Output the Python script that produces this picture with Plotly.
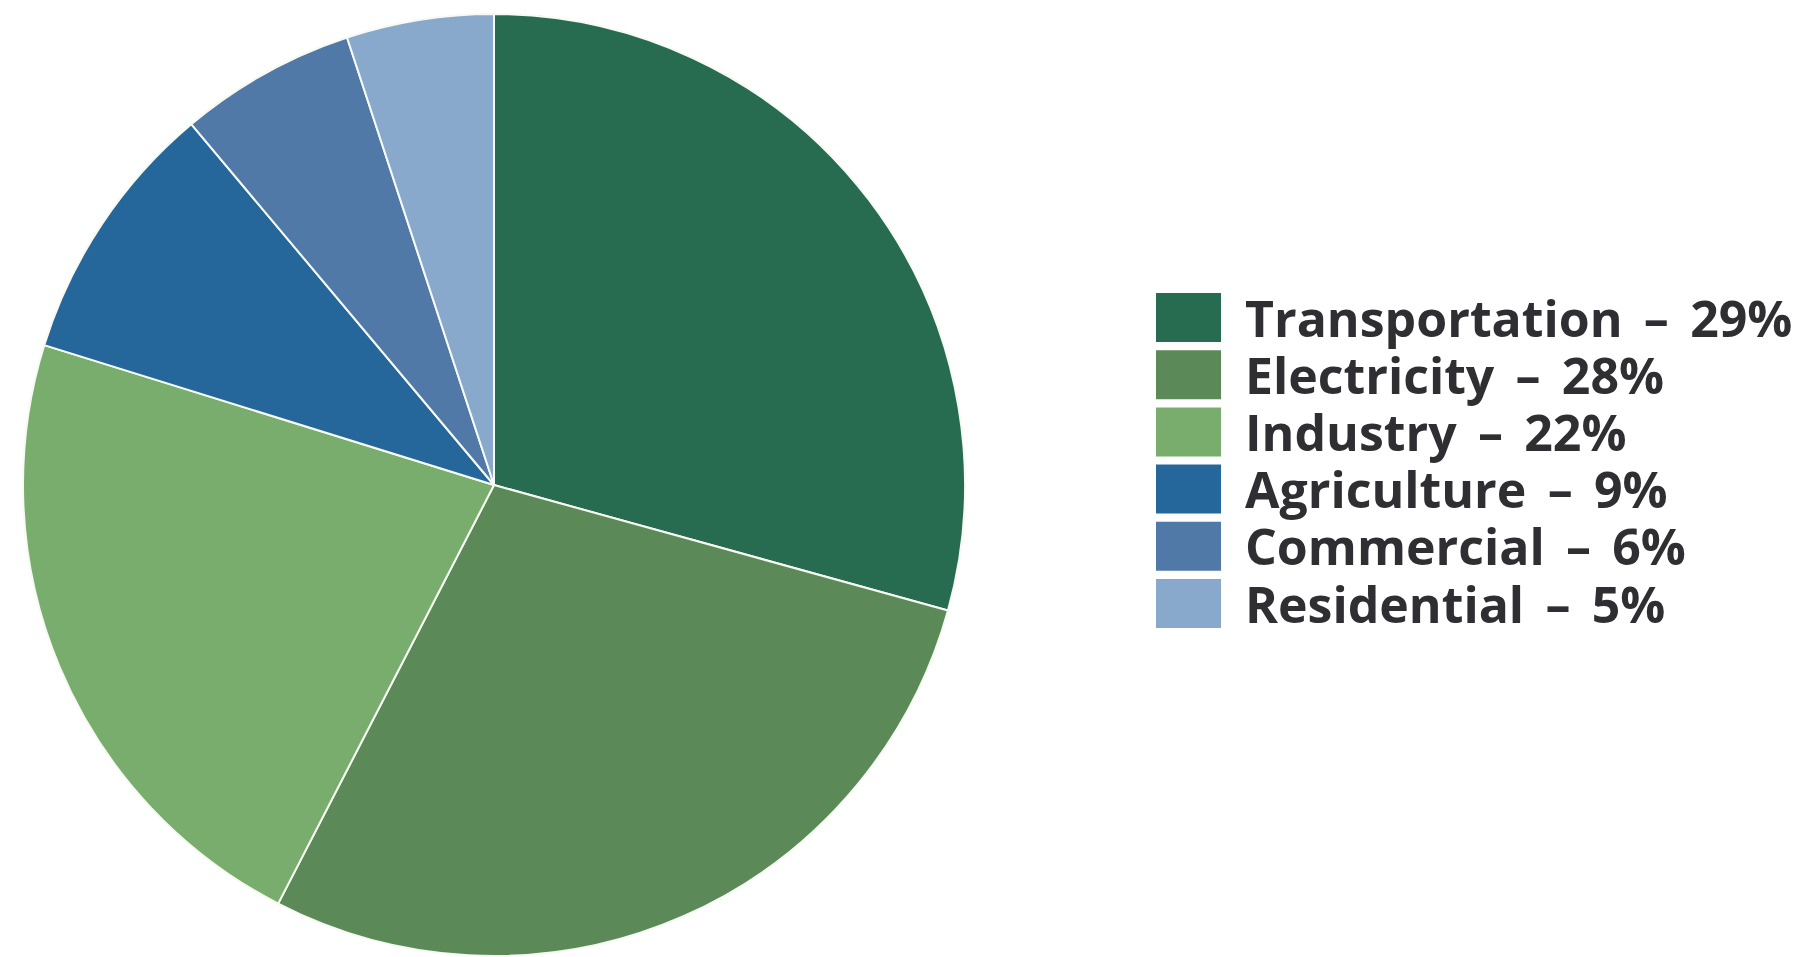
import plotly.graph_objects as go

# Share of emissions by economic sector
sectors = ["Transportation", "Electricity", "Industry", "Agriculture", "Commercial", "Residential"]
shares = [29, 28, 22, 9, 6, 5]
colors = ["#276c50", "#5b8a58", "#79ad6d", "#26679b", "#5079a8", "#88a9cc"]

W, H = 1799, 957

fig = go.Figure(
    go.Pie(
        labels=sectors,
        values=shares,
        sort=False,
        direction="clockwise",
        rotation=0,
        textinfo="none",
        hoverinfo="label+percent",
        marker=dict(colors=colors, line=dict(color="#f7faf3", width=2)),
        domain=dict(x=[23 / W, 965 / W], y=[1 / H, 943 / H]),
        showlegend=False,
    )
)

# Custom legend: colour swatch plus "Sector – NN%" text per row
sw_x0, sw_x1 = 1156, 1221
row0_top, sw_h, pitch = 293, 49, 57.2
text_x = 1243
shapes, annotations = [], []
for i, (name, val, col) in enumerate(zip(sectors, shares, colors)):
    top = row0_top + i * pitch
    shapes.append(dict(
        type="rect", xref="paper", yref="paper",
        x0=sw_x0 / W, x1=sw_x1 / W,
        y0=1 - (top + sw_h) / H, y1=1 - top / H,
        fillcolor=col, line=dict(width=0), layer="above",
    ))
    annotations.append(dict(
        xref="paper", yref="paper",
        x=text_x / W, y=1 - (top + sw_h / 2) / H,
        xanchor="left", yanchor="middle",
        text=f"{name}\u2009 \u2013 \u2009{val}%", showarrow=False,
        font=dict(family="Open Sans", size=50, color="#2f2f33", weight="bold"),
    ))

fig.update_layout(
    width=W, height=H,
    margin=dict(l=0, r=0, t=0, b=0),
    paper_bgcolor="white", plot_bgcolor="white",
    shapes=shapes, annotations=annotations,
)

fig.write_html("out.html")
